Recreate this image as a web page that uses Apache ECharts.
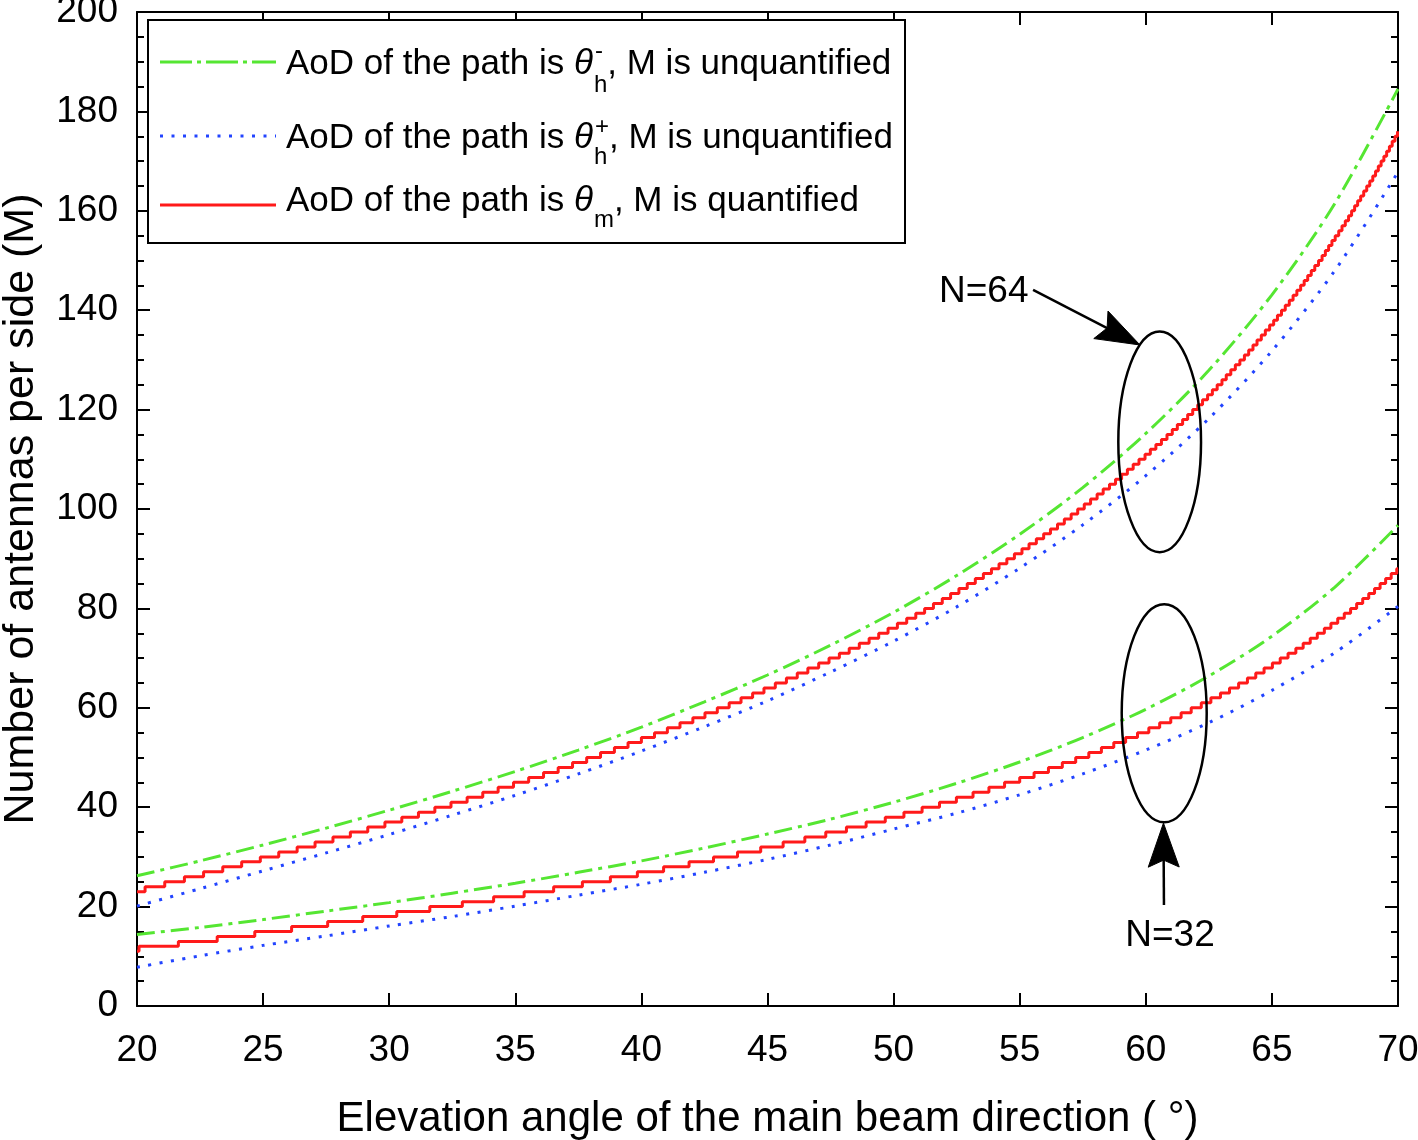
<!DOCTYPE html>
<html>
<head>
<meta charset="utf-8">
<script src="https://cdn.jsdelivr.net/npm/echarts@6/dist/echarts.min.js"></script>
<style>
html,body{margin:0;padding:0;background:#fff;}
#c{width:1418px;height:1140px;}
</style>
</head>
<body>
<div id="c"></div>
<script>
// ---------------- data ----------------
// elevation angle grid for the smooth (unquantified) curves
const angleGrid = [20,22.5,25,27.5,30,32.5,35,37.5,40,42.5,45,47.5,50,52.5,55,57.5,60,62.5,65,67.5,70];
// N = 64
const green64 = [26.2,29.2,32.4,35.8,39.4,43.2,47.2,51.5,56.1,61.2,66.6,72.6,79.2,86.6,94.9,104.3,115.2,127.9,143.1,161.5,184.5];
const blue64  = [20.1,23.6,27.2,30.8,34.5,38.4,42.4,46.7,51.3,56.2,61.4,67.2,73.4,80.3,88.1,96.8,106.7,118.2,131.8,148.0,167.8];
// N = 32
const green32 = [14.4,15.8,17.4,19.1,20.8,22.7,24.7,26.9,29.2,31.8,34.6,37.6,41.0,44.8,49.1,54.0,59.7,66.4,74.4,84.3,96.7];
const blue32  = [7.8,10.1,12.2,14.1,16.1,18.0,20.1,22.3,24.5,26.9,29.5,32.4,35.6,38.8,42.5,46.7,51.5,57.0,63.5,71.1,80.4];

// quantified M (red staircase): angle at which each integer value of M starts
const red64Angle = [20,
 20.32,21.10,21.88,22.64,23.40,24.15,24.89,25.62,26.35,27.06,
 27.77,28.46,29.15,29.83,30.50,31.16,31.81,32.45,33.09,33.71,
 34.32,34.93,35.53,36.12,36.70,37.27,37.83,38.38,38.93,39.47,
 40.00,40.52,41.03,41.53,42.04,42.52,43.01,43.48,43.95,44.41,
 44.86,45.31,45.75,46.18,46.60,47.03,47.44,47.85,48.24,48.64,
 49.03,49.41,49.78,50.15,50.52,50.88,51.23,51.58,51.93,52.26,
 52.59,52.92,53.24,53.56,53.88,54.18,54.49,54.79,55.09,55.37,
 55.66,55.95,56.22,56.50,56.77,57.04,57.30,57.56,57.81,58.07,
 58.31,58.56,58.80,59.04,59.27,59.50,59.73,59.97,60.18,60.40,
 60.62,60.84,61.05,61.25,61.46,61.66,61.86,62.06,62.25,62.45,
 62.64,62.83,63.02,63.19,63.37,63.55,63.73,63.91,64.08,64.25,
 64.41,64.58,64.74,64.91,65.07,65.22,65.38,65.53,65.69,65.84,
 65.99,66.14,66.28,66.42,66.56,66.70,66.85,66.99,67.12,67.25,
 67.38,67.51,67.65,67.78,67.91,68.04,68.16,68.28,68.40,68.52,
 68.64,68.76,68.88,69.00,69.11,69.22,69.33,69.44,69.55,69.66,
 69.77,69.88,69.98,
 70];
const red64M = [23,
 24,25,26,27,28,29,30,31,32,33,
 34,35,36,37,38,39,40,41,42,43,
 44,45,46,47,48,49,50,51,52,53,
 54,55,56,57,58,59,60,61,62,63,
 64,65,66,67,68,69,70,71,72,73,
 74,75,76,77,78,79,80,81,82,83,
 84,85,86,87,88,89,90,91,92,93,
 94,95,96,97,98,99,100,101,102,103,
 104,105,106,107,108,109,110,111,112,113,
 114,115,116,117,118,119,120,121,122,123,
 124,125,126,127,128,129,130,131,132,133,
 134,135,136,137,138,139,140,141,142,143,
 144,145,146,147,148,149,150,151,152,153,
 154,155,156,157,158,159,160,161,162,163,
 164,165,166,167,168,169,170,171,172,173,
 174,175,176,
 176];
const red32Angle = [20,
 20.08,21.64,23.18,24.67,26.13,27.56,28.95,30.30,31.61,32.90,
 34.14,35.35,36.52,37.66,38.77,39.84,40.88,41.89,42.86,43.81,
 44.73,45.62,46.48,47.31,48.13,48.91,49.67,50.41,51.13,51.82,
 52.49,53.15,53.78,54.40,55.00,55.57,56.14,56.69,57.22,57.74,
 58.24,58.73,59.20,59.67,60.12,60.55,60.99,61.40,61.80,62.20,
 62.58,62.96,63.32,63.68,64.03,64.36,64.69,65.02,65.33,65.64,
 65.95,66.24,66.52,66.80,67.08,67.34,67.61,67.87,68.12,68.36,
 68.60,68.84,69.07,69.29,69.51,69.73,69.95,
 70];
const red32M = [11,
 12,13,14,15,16,17,18,19,20,21,
 22,23,24,25,26,27,28,29,30,31,
 32,33,34,35,36,37,38,39,40,41,
 42,43,44,45,46,47,48,49,50,51,
 52,53,54,55,56,57,58,59,60,61,
 62,63,64,65,66,67,68,69,70,71,
 72,73,74,75,76,77,78,79,80,81,
 82,83,84,85,86,87,88,
 88];

// axis ticks
const xTicks = {min: 20, max: 70, step: 5};
const yTicks = {min: 0, max: 200, step: 20};

// legend texts
const legendRows = [
  {lead: 'AoD of the path is ', sym: 'θ', sup: '-', sub: 'h', tail: ', M is unquantified'},
  {lead: 'AoD of the path is ', sym: 'θ', sup: '+', sub: 'h', tail: ', M is unquantified'},
  {lead: 'AoD of the path is ', sym: 'θ', sup: '',  sub: 'm', tail: ', M is quantified'}
];
// annotations in data coordinates
const ellipses = [
  {cx: 60.55, cy: 113.5, rx: 1.64, ry: 22.2},
  {cx: 60.73, cy: 58.9, rx: 1.685, ry: 21.95}
];
const arrows = [
  {label: 'N=64', lx: 55.35, ly: 143.7, align: 'right', tail: [55.53, 144.1], tip: [59.77, 133.0]},
  {label: 'N=32', lx: 60.96, ly: 14.2, align: 'center', tail: [60.72, 20.3], tip: [60.70, 36.8]}
];

// ---------------- styles ----------------
const FONT = '"Liberation Sans", Arial, Helvetica, sans-serif';
const GREEN = '#55e632';
const BLUE = '#2244ff';
const RED = '#ff1a1a';
const GREEN_DASH = [18, 6, 4, 6];
const BLUE_DOT = [3, 8.5];

const pairs = (xs, ys) => xs.slice(0, Math.min(xs.length, ys.length)).map((x, i) => [x, ys[i]]);

const chart = echarts.init(document.getElementById('c'), null, {renderer: 'canvas'});

function axisBase(pos, showLabel) {
  return {
    type: 'value', position: pos,
    axisLine: {show: true, onZero: false, lineStyle: {color: '#000', width: 2}},
    axisTick: {show: true, inside: true, length: 13, lineStyle: {color: '#000', width: 2}},
    axisLabel: {show: showLabel, color: '#000', fontSize: 37, fontFamily: FONT},
    splitLine: {show: false}
  };
}

const xMain = Object.assign(axisBase('bottom', true), {
  min: xTicks.min, max: xTicks.max, interval: xTicks.step,
  name: 'Elevation angle of the main beam direction ( °)',
  nameLocation: 'middle', nameGap: 92, nameMoveOverlap: false,
  nameTextStyle: {color: '#000', fontSize: 42, fontFamily: FONT}
});
xMain.axisLabel.margin = 26;
const xTop = Object.assign(axisBase('top', false), {min: xTicks.min, max: xTicks.max, interval: xTicks.step});

const minorTick = {show: true, splitNumber: 4, length: 7, lineStyle: {color: '#000', width: 2}};
const yMain = Object.assign(axisBase('left', true), {
  min: yTicks.min, max: yTicks.max, interval: yTicks.step, minorTick: minorTick,
  name: 'Number of antennas per side (M)',
  nameLocation: 'middle', nameGap: 94, nameRotate: 90, nameMoveOverlap: false,
  nameTextStyle: {color: '#000', fontSize: 43, fontFamily: FONT}
});
yMain.axisLabel.margin = 19;
const yRight = Object.assign(axisBase('right', false), {
  min: yTicks.min, max: yTicks.max, interval: yTicks.step, minorTick: minorTick
});

function smoothSeries(name, xs, ys, color, dash) {
  return {
    name: name, type: 'line', xAxisIndex: 0, yAxisIndex: 0,
    data: pairs(xs, ys), showSymbol: false, symbol: 'none',
    smooth: 0.3,
    lineStyle: {color: color, width: 3, type: dash},
    silent: true, z: 3
  };
}
function stepSeries(name, xs, ys) {
  return {
    name: name, type: 'line', xAxisIndex: 0, yAxisIndex: 0,
    data: pairs(xs, ys), showSymbol: false, symbol: 'none', step: 'end',
    lineStyle: {color: RED, width: 3, type: 'solid'},
    silent: true, z: 4
  };
}

chart.setOption({
  animation: false,
  backgroundColor: '#fff',
  textStyle: {fontFamily: FONT},
  grid: {left: 137, top: 12, width: 1261, height: 994, containLabel: false, outerBoundsMode: 'none'},
  xAxis: [xMain, xTop],
  yAxis: [yMain, yRight],
  legend: {show: false},
  series: [
    smoothSeries('θh- (N=64)', angleGrid, green64, GREEN, GREEN_DASH),
    smoothSeries('θh+ (N=64)', angleGrid, blue64, BLUE, BLUE_DOT),
    stepSeries('θm (N=64)', red64Angle, red64M),
    smoothSeries('θh- (N=32)', angleGrid, green32, GREEN, GREEN_DASH),
    smoothSeries('θh+ (N=32)', angleGrid, blue32, BLUE, BLUE_DOT),
    stepSeries('θm (N=32)', red32Angle, red32M)
  ]
});

// ---------------- annotations & legend ----------------
const px = (x, y) => chart.convertToPixel({xAxisIndex: 0, yAxisIndex: 0}, [x, y]);
const g = [];

ellipses.forEach(e => {
  const c = px(e.cx, e.cy);
  const r = px(e.cx + e.rx, e.cy + e.ry);
  g.push({type: 'ellipse', z: 100, silent: true,
    shape: {cx: c[0], cy: c[1], rx: Math.abs(r[0] - c[0]), ry: Math.abs(r[1] - c[1])},
    style: {fill: 'transparent', stroke: '#000', lineWidth: 2.5}});
});

arrows.forEach(a => {
  const t0 = px(a.tail[0], a.tail[1]);
  const t1 = px(a.tip[0], a.tip[1]);
  const dx = t1[0] - t0[0], dy = t1[1] - t0[1];
  const len = Math.hypot(dx, dy);
  const ux = dx / len, uy = dy / len;
  const vx = -uy, vy = ux;
  const L = 44, notch = 37, hw = 15.5;
  const back = [t1[0] - L * ux, t1[1] - L * uy];
  const nPt = [t1[0] - notch * ux, t1[1] - notch * uy];
  g.push({type: 'line', z: 100, silent: true,
    shape: {x1: t0[0], y1: t0[1], x2: nPt[0], y2: nPt[1]},
    style: {stroke: '#000', lineWidth: 2.5}});
  g.push({type: 'polygon', z: 100, silent: true,
    shape: {points: [t1, [back[0] + hw * vx, back[1] + hw * vy], nPt, [back[0] - hw * vx, back[1] - hw * vy]]},
    style: {fill: '#000', stroke: '#000', lineWidth: 1}});
  const lp = px(a.lx, a.ly);
  g.push({type: 'text', z: 100, silent: true, x: lp[0], y: lp[1],
    style: {text: a.label, font: '37px ' + FONT, fill: '#000', align: a.align, verticalAlign: 'middle'}});
});

// legend box
const LB = {x: 148, y: 20, w: 757, h: 223};
g.push({type: 'rect', z: 100, silent: true, shape: {x: LB.x, y: LB.y, width: LB.w, height: LB.h},
  style: {fill: '#fff', stroke: '#000', lineWidth: 2}});
const rowLineY = [62, 136, 205];
const rowTextY = [64, 138, 201];
const rowSubY = [85, 157, 220];
const rowSupY = [51, 127.5, 0];
const rowStyle = [
  {color: GREEN, dash: [32, 5, 4, 5]},
  {color: BLUE, dash: [3, 8.5]},
  {color: RED, dash: null}
];
const mctx = document.createElement('canvas').getContext('2d');
const tw = (t, f) => { mctx.font = f; return mctx.measureText(t).width; };
const MAINF = '35px ' + FONT;
const SYMF = 'italic 35px ' + FONT;
const SMALLF = '24px ' + FONT;
legendRows.forEach((r, i) => {
  g.push({type: 'line', z: 101, silent: true,
    shape: {x1: 160, y1: rowLineY[i], x2: 276, y2: rowLineY[i]},
    style: {stroke: rowStyle[i].color, lineWidth: 3, lineDash: rowStyle[i].dash}});
  let x = 286;
  g.push({type: 'text', z: 101, silent: true, x: x, y: rowTextY[i],
    style: {text: r.lead, font: MAINF, fill: '#000', align: 'left', verticalAlign: 'middle'}});
  x += tw(r.lead, MAINF);
  g.push({type: 'text', z: 101, silent: true, x: x, y: rowTextY[i],
    style: {text: r.sym, font: SYMF, fill: '#000', align: 'left', verticalAlign: 'middle'}});
  x += tw(r.sym, SYMF) + 1;
  let w = 0;
  if (r.sup) {
    g.push({type: 'text', z: 101, silent: true, x: x + 1, y: rowSupY[i],
      style: {text: r.sup, font: SMALLF, fill: '#000', align: 'left', verticalAlign: 'middle'}});
    w = Math.max(w, tw(r.sup, SMALLF) + 1);
  }
  if (r.sub) {
    g.push({type: 'text', z: 101, silent: true, x: x, y: rowSubY[i],
      style: {text: r.sub, font: SMALLF, fill: '#000', align: 'left', verticalAlign: 'middle'}});
    w = Math.max(w, tw(r.sub, SMALLF));
  }
  x += w;
  g.push({type: 'text', z: 101, silent: true, x: x, y: rowTextY[i],
    style: {text: r.tail, font: MAINF, fill: '#000', align: 'left', verticalAlign: 'middle'}});
});

chart.setOption({graphic: g});
</script>
</body>
</html>
